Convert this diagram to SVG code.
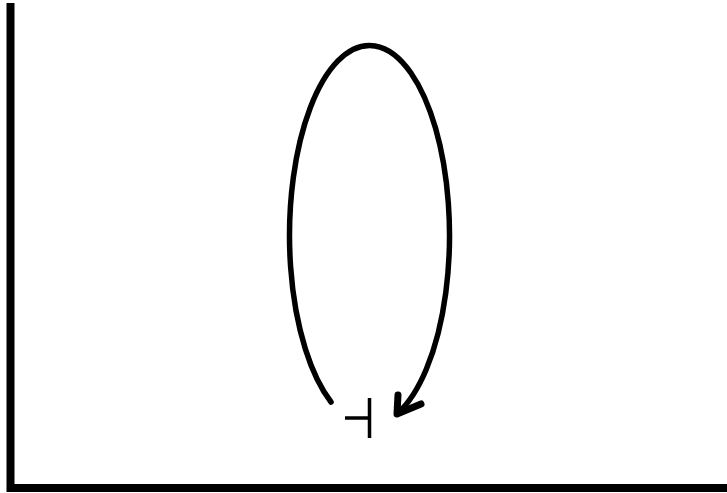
<svg xmlns="http://www.w3.org/2000/svg" width="727" height="493" viewBox="0 0 727 493">
<style>
.ax{fill:none;stroke:#000;stroke-width:8}
.loop{fill:none;stroke:#000;stroke-width:5.5;stroke-linecap:round;stroke-linejoin:round}
.head{fill:none;stroke:#000;stroke-width:7;stroke-linecap:round;stroke-linejoin:round}
.thin{fill:none;stroke:#000;stroke-width:3.5}
</style>
<rect width="727" height="493" fill="#fff"/>
<g id="axes">
<path class="ax" d="M10.5 3 V488 H727"/>
</g>
<g id="connectors">
<path class="loop" d="M331 402 A80 190 0 1 1 398 413"/>
<polyline class="head" points="398,395 397,414 421,404"/>
</g>
<g id="mark">
<path class="thin" d="M345 418 H370 M369.5 398 V438"/>
</g>
</svg>
